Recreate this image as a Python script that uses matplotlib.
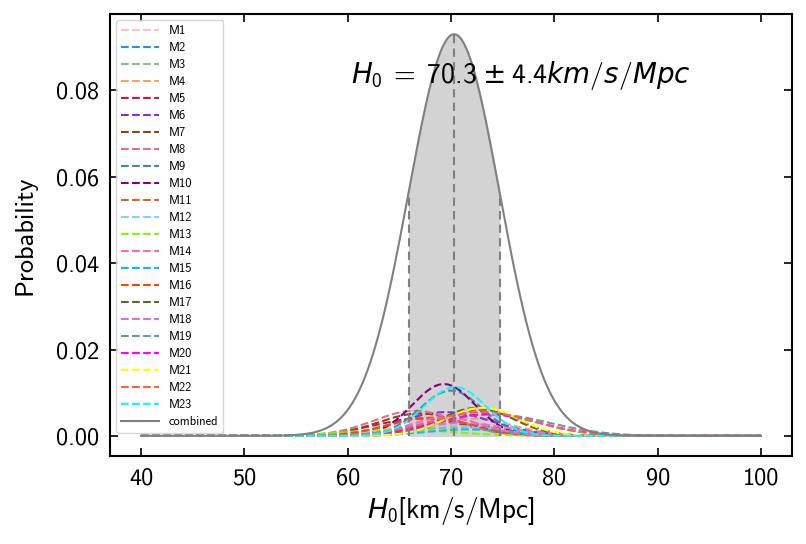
import numpy as np
import matplotlib
matplotlib.use('Agg')
from matplotlib import pyplot as plt

# component likelihoods: centre, width, peak height
names = ['M%d' % i for i in range(1, 24)]
mus = [69.0, 70.0, 71.0, 72.0, 67.0, 69.5, 67.0, 66.5, 70.0, 69.3, 73.0, 69.0,
       65.0, 71.0, 71.5, 68.0, 72.5, 69.5, 74.0, 73.5, 73.0, 73.0, 70.4]
sigmas = [4.0, 4.5, 5.0, 4.0, 4.5, 4.5, 4.0, 4.0, 3.0, 3.0, 3.5, 5.0,
          5.0, 4.5, 4.0, 4.0, 3.5, 3.5, 5.5, 5.0, 3.5, 5.0, 3.0]
peaks = [0.0045, 0.0030, 0.0020, 0.0040, 0.0040, 0.0055, 0.0052, 0.0058, 0.0105, 0.0120, 0.0060, 0.0025,
         0.0015, 0.0030, 0.0015, 0.0042, 0.0065, 0.0043, 0.0050, 0.0050, 0.0065, 0.0055, 0.0113]
colors = ['pink', 'dodgerblue', 'darkseagreen', 'sandybrown', 'crimson', 'blueviolet',
          'saddlebrown', 'palevioletred', 'steelblue', 'purple', 'chocolate', 'lightskyblue',
          'lawngreen', 'hotpink', 'deepskyblue', 'orangered', 'darkolivegreen', 'orchid',
          'cadetblue', 'magenta', 'yellow', 'tomato', 'cyan']

# combined result
H0, dH0, peak_comb = 70.3, 4.4, 0.093
xmin, xmax = 40, 100

plt.rcParams['font.family'] = ['cmss10', 'DejaVu Sans']
plt.rcParams['mathtext.fontset'] = 'custom'
plt.rcParams['mathtext.rm'] = 'cmss10'
plt.rcParams['mathtext.it'] = 'DejaVu Sans:italic'
plt.rcParams['mathtext.sf'] = 'DejaVu Sans'
plt.rcParams['axes.formatter.use_mathtext'] = False
plt.rcParams['axes.unicode_minus'] = False


def gauss(x, mu, sig, amp):
    return amp * np.exp(-(x - mu) ** 2 / (2 * sig ** 2))


x = np.linspace(xmin, xmax, 600)
fig, ax = plt.subplots(figsize=(8.06, 5.44), dpi=100)
fig.subplots_adjust(left=0.1365, right=0.9826, bottom=0.1618, top=0.974)
for name, mu, sig, amp, c in zip(names, mus, sigmas, peaks, colors):
    ax.plot(x, gauss(x, mu, sig, amp), '--', color=c, lw=1.5, label=name)

comb = gauss(x, H0, dH0, peak_comb)
ax.plot(x, comb, '-', color='grey', lw=1.5, label='combined')
sel = (x >= H0 - dH0) & (x <= H0 + dH0)
ax.fill_between(x[sel], 0, comb[sel], color='lightgrey', zorder=0)
for v in [H0 - dH0, H0, H0 + dH0]:
    ax.vlines(v, 0, gauss(v, H0, dH0, peak_comb), colors='grey', linestyles=(0, (4, 2.5)), lw=1.5)

ax.text(60.3, 0.0835, r'$H_0\:=\:%.1f\:\mathsf{\pm}\:%.1f km/s/Mpc$' % (H0, dH0),
        fontsize=20, va='center')
ax.set_xlabel(r'$H_0$[km/s/Mpc]', fontsize=19.5)
ax.set_ylabel('Probability', fontsize=19, labelpad=14)
ax.tick_params(direction='in', top=True, right=True, labelsize=17.5, length=6, width=1.2, pad=8)
for s in ax.spines.values():
    s.set_linewidth(1.5)
ax.legend(loc='upper left', fontsize=9, handlelength=3.0, labelspacing=0.4)
fig.savefig('out.png')
